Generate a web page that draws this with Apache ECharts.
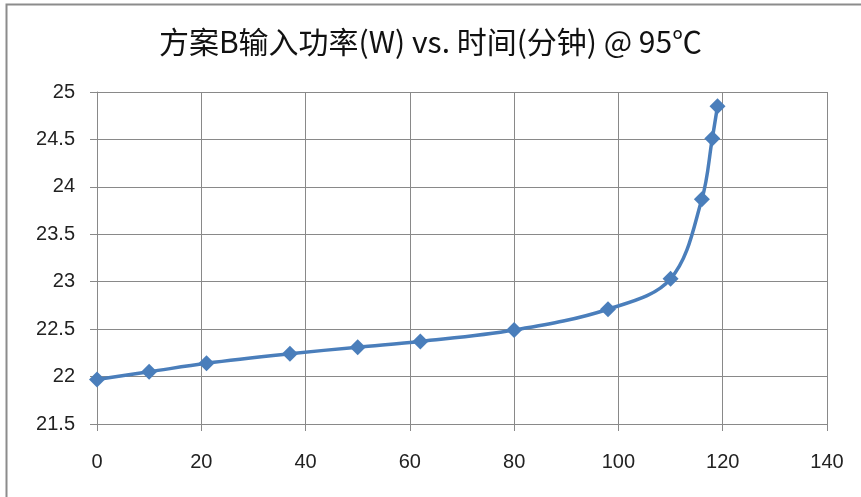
<!DOCTYPE html>
<html>
<head>
<meta charset="utf-8">
<style>
  html, body { margin: 0; padding: 0; background: #fff; }
  #chart { width: 861px; height: 497px; }
</style>
<script src="https://cdn.jsdelivr.net/npm/echarts@6/dist/echarts.min.js"></script>
</head>
<body>
<div id="chart"></div>
<script>
// Elapsed time (minutes) and measured input power (W)
const timeMin = [0, 10, 21, 37, 50, 62, 80, 98, 110, 116, 118, 119];
const powerW = [21.97, 22.05, 22.14, 22.24, 22.31, 22.37, 22.49, 22.71, 23.03, 23.87, 24.51, 24.85];
const titleText = '方案B输入功率(W) vs. 时间(分钟) @ 95℃';

const chart = echarts.init(document.getElementById('chart'));
const gridColor = '#898989';
const labelFont = { color: '#222', fontSize: 20, fontFamily: 'Liberation Sans, Noto Sans CJK SC, sans-serif' };

chart.setOption({
  animation: false,
  backgroundColor: '#fff',
  title: {
    text: titleText,
    left: 'center',
    top: 22,
    textStyle: { color: '#111', fontSize: 30, fontWeight: 'normal', fontFamily: 'Noto Sans CJK SC, sans-serif' }
  },
  graphic: [{
    type: 'rect',
    shape: { x: 6.5, y: 4.5, width: 870, height: 510 },
    style: { fill: 'none', stroke: '#8c8c8c', lineWidth: 2 }
  }],
  grid: { left: 97, right: 34, top: 92, bottom: 73 },
  xAxis: {
    type: 'value',
    min: 0, max: 140, interval: 20,
    axisLine: { show: true, lineStyle: { color: gridColor } },
    axisTick: { show: true, length: 7, lineStyle: { color: gridColor } },
    splitLine: { show: true, lineStyle: { color: gridColor } },
    axisLabel: Object.assign({ margin: 28 }, labelFont)
  },
  yAxis: {
    type: 'value',
    min: 21.5, max: 25, interval: 0.5,
    axisLine: { show: true, lineStyle: { color: gridColor } },
    axisTick: { show: true, length: 7, lineStyle: { color: gridColor } },
    splitLine: { show: true, lineStyle: { color: gridColor } },
    axisLabel: Object.assign({ margin: 22 }, labelFont)
  },
  series: [{
    type: 'line',
    data: timeMin.map((t, i) => [t, powerW[i]]),
    smooth: 0.35,
    symbol: 'diamond',
    symbolSize: 16,
    lineStyle: { color: '#4a7ebb', width: 3.5 },
    itemStyle: { color: '#4a7ebb' }
  }]
});
</script>
</body>
</html>
